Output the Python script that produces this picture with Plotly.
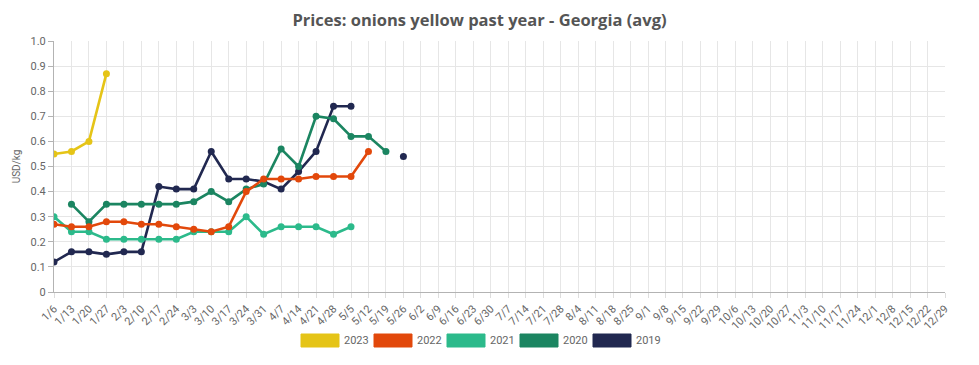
import plotly.graph_objects as go

weeks = ["1/6","1/13","1/20","1/27","2/3","2/10","2/17","2/24","3/3","3/10","3/17","3/24","3/31",
         "4/7","4/14","4/21","4/28","5/5","5/12","5/19","5/26","6/2","6/9","6/16","6/23","6/30",
         "7/7","7/14","7/21","7/28","8/4","8/11","8/18","8/25","9/1","9/8","9/15","9/22","9/29",
         "10/6","10/13","10/20","10/27","11/3","11/10","11/17","11/24","12/1","12/8","12/15","12/22","12/29"]

y2023 = [0.55, 0.56, 0.60, 0.87]
y2022 = [0.27, 0.26, 0.26, 0.28, 0.28, 0.27, 0.27, 0.26, 0.25, 0.24, 0.26, 0.40, 0.45, 0.45, 0.45,
         0.46, 0.46, 0.46, 0.56]
y2021 = [0.30, 0.24, 0.24, 0.21, 0.21, 0.21, 0.21, 0.21, 0.24, 0.24, 0.24, 0.30, 0.23, 0.26, 0.26,
         0.26, 0.23, 0.26]
y2020 = [None, 0.35, 0.28, 0.35, 0.35, 0.35, 0.35, 0.35, 0.36, 0.40, 0.36, 0.41, 0.43, 0.57, 0.50,
         0.70, 0.69, 0.62, 0.62, 0.56]
y2019 = [0.12, 0.16, 0.16, 0.15, 0.16, 0.16, 0.42, 0.41, 0.41, 0.56, 0.45, 0.45, 0.44, 0.41, 0.48,
         0.56, 0.74, 0.74, None, None, 0.54]

series_names = ["2023", "2022", "2021", "2020", "2019"]
series_values = [y2023, y2022, y2021, y2020, y2019]
colors = ["#E5C417", "#E2480B", "#2CBA8B", "#1B8561", "#212850"]

y_ticks = [0, 0.1, 0.2, 0.3, 0.4, 0.5, 0.6, 0.7, 0.8, 0.9, 1.0]
y_ticktext = ["0", "0.1", "0.2", "0.3", "0.4", "0.5", "0.6", "0.7", "0.8", "0.9", "1.0"]

fig = go.Figure()
# draw older series first so newer ones appear on top
for name, vals, col in reversed(list(zip(series_names, series_values, colors))):
    fig.add_trace(go.Scatter(
        x=list(range(len(vals))), y=vals, name=name, mode="lines+markers",
        line=dict(color=col, width=2.6), marker=dict(color=col, size=7),
        connectgaps=False, showlegend=False,
    ))

# page body has an 8px default margin; compensate so the page layout matches
OFF = 8
W, H = 979 - OFF, 365 - OFF
L, R, T, B = 54 - OFF, 945 - OFF, 41 - OFF, 292 - OFF
pw, ph = R - L, B - T

# custom legend with wide rectangular swatches (positions in page pixels)
box_w, box_h, step = 38, 13, 73
x0 = 301
for i, (name, col) in enumerate(zip(series_names, colors)):
    bx = x0 + i * step - OFF
    fig.add_shape(type="rect", xref="paper", yref="paper",
                  x0=(bx - L) / pw, x1=(bx + box_w - L) / pw,
                  y0=(B - (347 - OFF)) / ph, y1=(B - (334 - OFF)) / ph,
                  fillcolor=col, line=dict(color=col, width=1), layer="above")
    fig.add_annotation(xref="paper", yref="paper", x=(bx + box_w + 3 - L) / pw,
                       y=(B - (340.5 - OFF)) / ph, text=name, showarrow=False,
                       xanchor="left", yanchor="middle",
                       font=dict(family="Roboto", size=11, color="#666666"))

fig.update_layout(
    width=W, height=H,
    margin=dict(l=L, r=W - R, t=T, b=H - B),
    plot_bgcolor="white", paper_bgcolor="white",
    title=dict(text="<b>Prices: onions yellow past year - Georgia (avg)</b>",
               xref="container", x=(479.5 - OFF) / W, xanchor="center",
               yref="container", y=1 - (20 - OFF) / H, yanchor="middle",
               font=dict(family="Open Sans", size=16.5, color="#555555")),
    xaxis=dict(
        range=[0, len(weeks) - 1], tickmode="array",
        tickvals=list(range(len(weeks))), ticktext=weeks, tickangle=-45,
        showgrid=True, gridcolor="#e6e6e6", gridwidth=1,
        showline=True, linecolor="#b3b3b3", linewidth=1,
        ticks="outside", ticklen=5, tickcolor="#dddddd",
        tickfont=dict(family="Roboto", size=11, color="#666666"),
        zeroline=False, automargin=False,
    ),
    yaxis=dict(
        range=[0, 1.0], tickmode="array", tickvals=y_ticks, ticktext=y_ticktext,
        showgrid=True, gridcolor="#e6e6e6", gridwidth=1,
        showline=True, linecolor="#b3b3b3", linewidth=1,
        ticks="outside", ticklen=5, tickcolor="#b3b3b3",
        tickfont=dict(family="Roboto", size=11, color="#666666"),
        title=dict(text="USD/kg", font=dict(family="Roboto", size=10, color="#666666"), standoff=8),
        zeroline=False, automargin=False,
    ),
)

fig.write_html("out.html")
